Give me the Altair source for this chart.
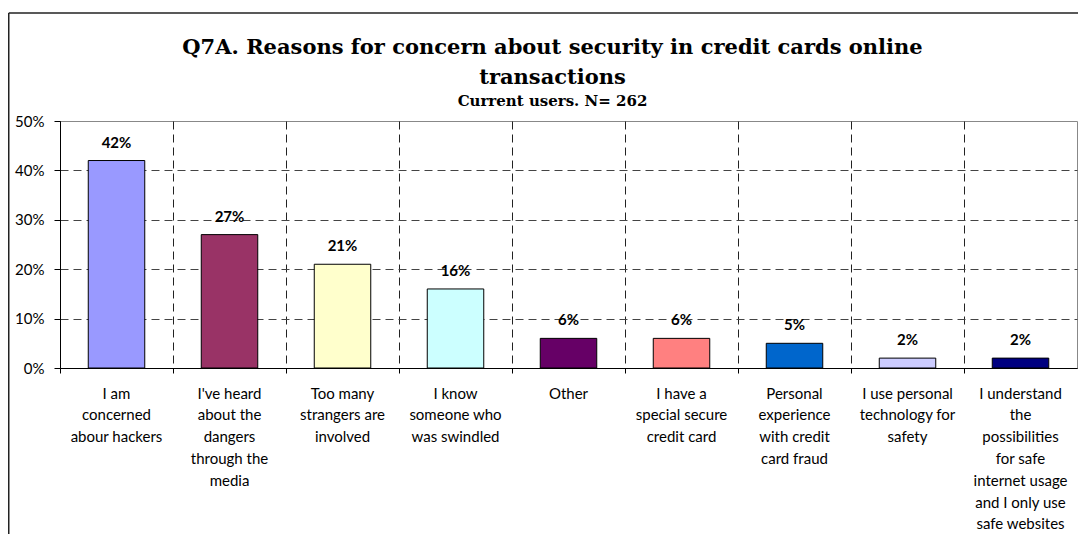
import altair as alt
import pandas as pd

categories = [
    "I am|concerned|abour hackers",
    "I've heard|about the|dangers|through the|media",
    "Too many|strangers are|involved",
    "I know|someone who|was swindled",
    "Other",
    "I have a|special secure|credit card",
    "Personal|experience|with credit|card fraud",
    "I use personal|technology for|safety",
    "I understand|the|possibilities|for safe|internet usage|and I only use|safe websites",
]
values = [42, 27, 21, 16, 6, 6, 5, 2, 2]
colors = ["#9999FF", "#993366", "#FFFFCC", "#CCFFFF", "#660066",
          "#FF8080", "#0066CC", "#CCCCFF", "#000080"]
y_ticks = [0, 10, 20, 30, 40, 50]
title_lines = ["Q7A. Reasons for concern about security in credit cards online",
               "transactions"]
subtitle = "Current users. N= 262"

df = pd.DataFrame({"category": categories, "value": values, "color": colors})
df["label"] = [f"{v}%" for v in values]

PAD_L, PAD_T, PAD_R, PAD_B = 52, 113, 1, 166
W, H = 1070 - PAD_L - PAD_R, 247

x_enc = alt.X(
    "category:N", sort=categories,
    scale=alt.Scale(paddingInner=0, paddingOuter=0, round=False),
    axis=alt.Axis(
        title=None, bandPosition=0,
        labelExpr="split(datum.label, '|')", labelAngle=0,
        labelFont="Lato", labelFontSize=15, labelColor="#000",
        labelLineHeight=21.8, labelPadding=13, labelLimit=300,
        labelOverlap=False, labelBaseline="top",
        tickSize=5, tickColor="#000", domainColor="#000", domainWidth=1,
        grid=True, gridDash=[8, 5], gridColor="#222", gridWidth=1,
    ),
)
y_enc = alt.Y(
    "value:Q",
    scale=alt.Scale(domain=[0, 50]),
    axis=alt.Axis(
        title=None, values=y_ticks, labelExpr="datum.value + '%'",
        labelFont="Lato", labelFontSize=15, labelColor="#000", labelPadding=10,
        tickSize=6, tickColor="#000", domainColor="#000", domainWidth=1,
        grid=True, gridDash=[8, 5], gridColor="#444", gridWidth=1,
        gridOpacity=alt.condition("datum.value == 50", alt.value(0), alt.value(1)),
    ),
)

base = alt.Chart(df)
bars = base.mark_bar(width=alt.RelativeBandSize(0.5), stroke="#000", strokeWidth=1).encode(
    x=x_enc, y=y_enc, color=alt.Color("color:N", scale=None)
)
texts = base.mark_text(dy=-18, font="Lato", fontSize=15, fontWeight="bold",
                       baseline="middle", color="#000").encode(
    x=alt.X("category:N", sort=categories), y="value:Q", text="label:N"
)

frame_df = pd.DataFrame({"k": [0]})
top_line = alt.Chart(frame_df).mark_rule(color="#222", strokeWidth=1.5).encode(
    x=alt.value(-PAD_L + 0.75), x2=alt.value(W + PAD_R),
    y=alt.value(-108), y2=alt.value(-108),
)
left_line = alt.Chart(frame_df).mark_rule(color="#222", strokeWidth=1.5).encode(
    x=alt.value(-PAD_L + 0.75), x2=alt.value(-PAD_L + 0.75),
    y=alt.value(-108), y2=alt.value(H + PAD_B),
)

chart = alt.layer(bars, texts, top_line, left_line).properties(
    width=W, height=H,
    autosize=alt.AutoSizeParams(type="none"),
    padding={"left": PAD_L, "top": PAD_T, "right": PAD_R, "bottom": PAD_B},
    title=alt.Title(
        text=title_lines, subtitle=subtitle,
        font="DejaVu Serif", fontSize=21, fontWeight="bold", color="#000",
        lineHeight=30, subtitleFont="DejaVu Serif", subtitleFontSize=15,
        subtitleFontWeight="bold", subtitleColor="#000", subtitlePadding=6,
        anchor="middle", frame="group", offset=-97, dx=-16,
    ),
).configure_view(stroke="#888", strokeWidth=1)

chart.save("out.html", embed_options={"renderer": "svg", "actions": False})
